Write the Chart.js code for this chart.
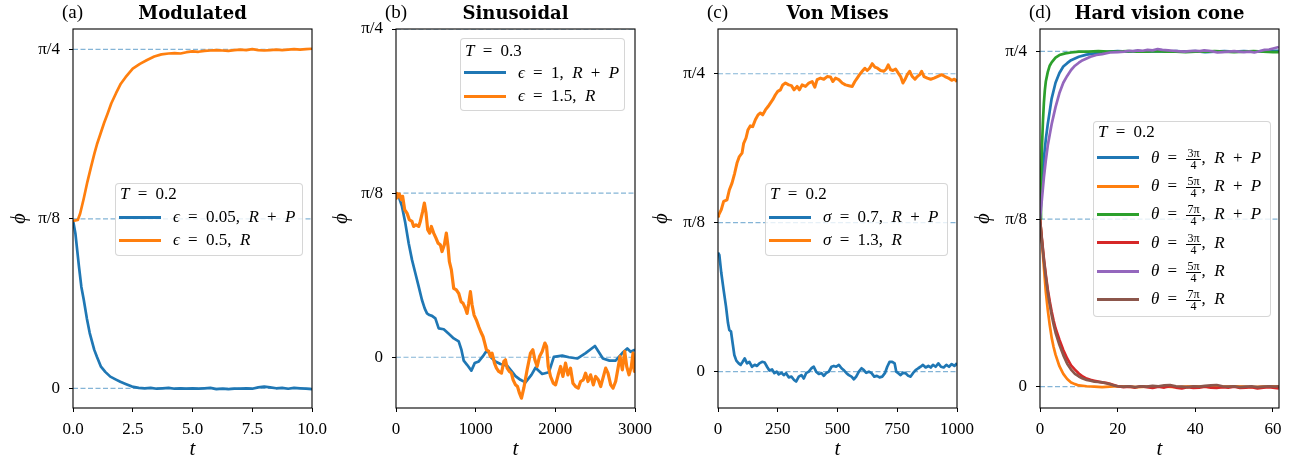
<!DOCTYPE html>
<html>
<head>
<meta charset="utf-8">
<script src="https://cdn.jsdelivr.net/npm/chart.js@4.4.1/dist/chart.umd.min.js"></script>
<style>
html,body{margin:0;padding:0;background:#fff;}
#wrap{position:relative;width:1305px;height:464px;overflow:hidden;background:#fff;}
#wrap canvas{position:absolute;top:0;}
.ptitle{position:absolute;top:4px;font-family:"DejaVu Serif",serif;font-weight:bold;font-size:18px;line-height:18px;white-space:nowrap;color:#000;transform:translateX(-50%);}
.plabel{position:absolute;top:2px;font-family:"Liberation Serif",serif;font-size:19px;line-height:19px;white-space:nowrap;color:#000;}
.leg{position:absolute;box-sizing:border-box;border:1px solid rgba(204,204,204,0.8);border-radius:4px;background:rgba(255,255,255,0.8);font-family:"Liberation Serif",serif;font-size:17px;color:#000;}
.leg .tx{position:absolute;white-space:nowrap;line-height:20px;height:20px;word-spacing:4px;}
.leg .sw{position:absolute;height:3px;width:42px;}
.frac{display:inline-block;vertical-align:middle;text-align:center;font-size:12px;line-height:11px;margin:0 1px;word-spacing:0;}
.frac span{display:block;padding:0 1px;}
.frac span:first-child{border-bottom:1px solid #000;}
</style>
</head>
<body>
<div id="wrap"></div>
<script>
// ---------------- data (phi in radians) ----------------
const yTickVals = [0, Math.PI / 8, Math.PI / 4];
const yTickLabels = ['0', 'π/8', 'π/4'];
const refLevels = [0, Math.PI / 8, Math.PI / 4];

// (a) Modulated
const modXTicks = [0, 2.5, 5, 7.5, 10];
const modXLabels = ['0.0', '2.5', '5.0', '7.5', '10.0'];
const modBlueT = [0,0.1,0.25,0.35,0.45,0.58,0.7,0.89,1.0,1.17,1.35,1.56,1.8,1.98,2.2,2.47,2.75,3.0,3.25,3.5,3.75,4.0,4.25,4.5,4.75,5.0,5.25,5.5,5.75,6.0,6.25,6.5,6.75,7.0,7.25,7.5,7.75,8.0,8.25,8.5,8.75,9.0,9.25,9.5,9.75,10.0];
const modBlue = [0.390,0.359,0.282,0.235,0.205,0.162,0.128,0.089,0.073,0.050,0.038,0.027,0.020,0.015,0.010,0.004,0.001,0.000,0.001,-0.001,0.000,0.001,-0.001,0.000,-0.001,0.000,-0.001,0.000,0.001,-0.002,-0.001,-0.002,-0.001,-0.001,0.000,-0.001,0.002,0.004,0.002,0.000,0.001,-0.001,0.001,0.000,-0.001,-0.002];
const modOrangeT = [0,0.2,0.3,0.45,0.6,0.75,0.9,1.0,1.15,1.3,1.45,1.6,1.8,2.0,2.2,2.5,2.8,3.1,3.4,3.7,4.0,4.25,4.5,4.75,5.0,5.25,5.5,5.75,6.0,6.25,6.5,6.75,7.0,7.25,7.5,7.75,8.0,8.25,8.5,8.75,9.0,9.25,9.5,9.75,10];
const modOrange = [0.388,0.390,0.405,0.440,0.478,0.512,0.545,0.565,0.590,0.615,0.637,0.660,0.684,0.706,0.721,0.741,0.752,0.761,0.769,0.774,0.776,0.777,0.776,0.779,0.781,0.780,0.782,0.783,0.784,0.783,0.782,0.784,0.785,0.784,0.786,0.784,0.783,0.784,0.785,0.784,0.785,0.786,0.785,0.786,0.787];
const modLegendTitle = '<i>T</i> = 0.2';
const modLegend = ['<i>ϵ</i> = 0.05,&ensp;<i>R</i> + <i>P</i>', '<i>ϵ</i> = 0.5,&ensp;<i>R</i>'];

// (b) Sinusoidal
const sinXTicks = [0, 1000, 2000, 3000];
const sinXLabels = ['0', '1000', '2000', '3000'];
const sinBlueT = [0,33,75,117,159,201,243,285,326,360,389,420,452,494,536,599,662,725,787,821,850,892,946,988,1039,1089,1131,1164,1200,1248,1311,1395,1458,1500,1562,1625,1700,1751,1835,1919,1981,2087,2170,2275,2380,2497,2597,2680,2757,2840,2903,2945,3000];
const sinBlue = [0.392,0.385,0.361,0.321,0.273,0.233,0.201,0.169,0.137,0.117,0.105,0.101,0.099,0.093,0.069,0.067,0.056,0.045,0.038,0.018,-0.008,-0.018,-0.032,-0.014,-0.010,0.002,0.014,0.012,-0.002,-0.010,-0.016,-0.020,-0.035,-0.045,-0.054,-0.060,-0.042,-0.025,-0.040,-0.036,0.001,0.004,0.000,-0.003,0.010,0.027,-0.003,-0.008,-0.008,0.010,0.021,0.013,0.018];
const sinOrangeT = [0,12,41,67,83,109,138,167,201,222,251,285,305,335,356,377,398,423,444,473,502,528,557,578,607,632,653,670,695,724,758,787,817,842,871,892,913,934,955,980,1009,1039,1064,1093,1114,1135,1164,1185,1206,1236,1261,1290,1324,1353,1374,1395,1424,1449,1470,1500,1525,1550,1575,1604,1646,1688,1718,1743,1772,1802,1835,1869,1890,1911,1940,1974,2003,2036,2066,2095,2128,2158,2191,2221,2254,2288,2317,2351,2380,2410,2443,2477,2506,2539,2569,2598,2632,2661,2695,2724,2757,2787,2812,2841,2871,2896,2925,2954,2975,2992,3000];
const sinOrange = [0.392,0.381,0.391,0.377,0.385,0.353,0.345,0.329,0.325,0.313,0.317,0.313,0.325,0.349,0.369,0.345,0.305,0.297,0.313,0.297,0.285,0.273,0.269,0.253,0.269,0.297,0.265,0.229,0.209,0.165,0.161,0.153,0.133,0.129,0.117,0.105,0.129,0.157,0.125,0.101,0.089,0.073,0.061,0.049,0.034,0.018,0.014,0.002,0.010,-0.014,-0.026,-0.034,-0.038,-0.010,-0.006,-0.026,-0.034,-0.038,-0.054,-0.066,-0.070,-0.086,-0.098,-0.074,-0.030,0.010,0.018,-0.006,-0.022,0.002,0.014,0.034,0.026,-0.022,-0.046,-0.062,-0.066,-0.042,-0.022,-0.046,-0.014,-0.042,-0.026,-0.062,-0.070,-0.074,-0.058,-0.054,-0.038,-0.058,-0.042,-0.066,-0.046,-0.054,-0.070,-0.050,-0.026,-0.038,-0.066,-0.074,-0.058,-0.026,0.002,-0.030,0.014,-0.022,-0.042,-0.022,0.010,-0.034,-0.006];
const sinLegendTitle = '<i>T</i> = 0.3';
const sinLegend = ['<i>ϵ</i> = 1,&ensp;<i>R</i> + <i>P</i>', '<i>ϵ</i> = 1.5,&ensp;<i>R</i>'];

// (c) Von Mises
const vmXTicks = [0, 250, 500, 750, 1000];
const vmXLabels = ['0', '250', '500', '750', '1000'];
const vmBlueT = [0,5.5,13.8,23.6,33.4,41.8,47.4,54.4,61.3,68.3,76.7,86.5,94.9,103.3,111.6,121.4,131.2,142.4,153.5,163.3,173.1,184.3,195.5,205.2,215,226.2,236,245.7,254.1,265.3,275.1,284.9,296,307.2,318.4,326.8,338,349.1,358.9,368.7,379.9,391,400.8,410.6,421.8,433,442.7,452.5,463.7,474.9,484.6,494.4,505.6,516.8,527.9,537.7,547.5,558.7,568.5,578.2,589.4,600.6,610.4,620.1,631.3,642.5,653.7,664.8,676,687.2,698.4,708.1,717.9,729.1,738.9,745.9,754.3,764.1,773.8,785,796.2,806,815.7,826.9,838.1,847.9,857.6,868.8,880,889.8,899.5,910.7,921.9,933.1,944.2,955.4,966.6,977.8,989,1000];
const vmBlue = [0.314,0.308,0.260,0.215,0.172,0.128,0.110,0.106,0.075,0.044,0.029,0.022,0.018,0.026,0.035,0.022,0.026,0.013,0.018,0.015,0.022,0.026,0.024,0.013,0.003,0.006,-0.004,0.000,-0.007,-0.003,-0.009,-0.004,-0.015,-0.013,-0.022,-0.026,-0.013,-0.009,-0.018,-0.004,0.000,0.009,0.013,0.000,-0.006,-0.004,-0.011,-0.004,0.000,0.013,0.015,0.013,0.018,0.009,0.003,-0.004,-0.009,-0.013,-0.020,-0.013,0.000,0.009,0.004,-0.003,0.000,-0.004,-0.013,-0.011,-0.015,-0.013,-0.004,0.013,0.026,0.026,0.022,0.000,-0.004,-0.009,-0.003,-0.004,-0.011,-0.013,-0.004,0.004,0.009,0.013,0.018,0.011,0.015,0.011,0.018,0.013,0.022,0.013,0.011,0.018,0.013,0.020,0.015,0.022];
const vmOrangeT = [0,2.7,13.8,23.6,37.6,47.4,58.6,69.7,79.5,89.3,100.5,107.4,117.2,125.6,135.4,145.2,156.3,167.5,177.3,187.1,198.3,209.4,219.2,229,240.2,250,261.1,270.9,282.1,296,307.2,318.4,331,340.7,351.9,365.9,379.9,393.8,405,414.8,428.8,442.7,456.7,470.7,480.5,491.6,505.6,519.6,533.5,547.5,561.5,572.6,582.4,592.2,603.4,614.5,624.3,634.1,645.3,656.5,667.6,680.2,694.2,704,712.3,722.1,731.9,743.1,754.3,764.1,773.8,782.2,792,801.8,813,824.1,833.9,843.7,852.1,861.9,875.8,889.8,903.7,917.7,935.9,949.8,963.8,977.8,989,1000];
const vmOrange = [0.410,0.413,0.427,0.449,0.453,0.479,0.497,0.523,0.550,0.567,0.576,0.602,0.616,0.638,0.648,0.646,0.664,0.677,0.682,0.677,0.690,0.699,0.708,0.717,0.730,0.739,0.743,0.756,0.761,0.756,0.754,0.743,0.752,0.743,0.756,0.752,0.761,0.765,0.750,0.770,0.774,0.771,0.778,0.777,0.765,0.774,0.770,0.761,0.756,0.754,0.752,0.765,0.774,0.783,0.792,0.800,0.794,0.800,0.812,0.803,0.800,0.794,0.792,0.798,0.809,0.796,0.794,0.798,0.787,0.778,0.761,0.770,0.783,0.792,0.778,0.771,0.778,0.783,0.792,0.778,0.774,0.771,0.774,0.778,0.783,0.778,0.774,0.768,0.771,0.765];
const vmLegendTitle = '<i>T</i> = 0.2';
const vmLegend = ['<i>σ</i> = 0.7,&ensp;<i>R</i> + <i>P</i>', '<i>σ</i> = 1.3,&ensp;<i>R</i>'];

// (d) Hard vision cone
const hvXTicks = [0, 20, 40, 60];
const hvXLabels = ['0', '20', '40', '60'];
const hvBlueT = [0,0.5,1,1.5,2,2.5,3,4,5,6,7,8,10,12,15,18,20,22.5,25,27.5,30,32.5,35,37.5,40,42.5,45,47.5,50,52.5,55,57.5,60,61.5];
const hvBlue = [0.393,0.470,0.535,0.580,0.615,0.645,0.675,0.712,0.735,0.750,0.758,0.765,0.773,0.778,0.782,0.785,0.786,0.785,0.786,0.785,0.786,0.785,0.786,0.785,0.786,0.784,0.785,0.786,0.785,0.786,0.785,0.786,0.787,0.787];
const hvOrangeT = [0,0.5,1,1.5,2,2.5,3,3.5,4,5,6,7,8,9,10,12,14,16,18,20,22.5,25,27.5,30,32.5,35,37.5,40,42.5,45,47.5,50,52.5,55,57.5,60,61.5];
const hvOrange = [0.393,0.340,0.280,0.222,0.180,0.145,0.115,0.093,0.075,0.048,0.030,0.018,0.010,0.006,0.003,0.001,0.000,-0.001,0.000,0.001,0.000,-0.001,0.000,0.001,0.000,-0.001,0.000,0.001,0.000,-0.001,0.000,0.001,0.000,-0.001,0.000,0.001,0.000];
const hvGreenT = [0,0.25,0.5,0.75,1,1.25,1.5,2,2.5,3,4,5,6.5,8,10,12.5,15,17.5,20,22.5,25,27.5,30,32.5,35,37.5,40,42.5,45,47.5,50,52.5,55,57.5,60,61.5];
const hvGreen = [0.393,0.480,0.560,0.620,0.665,0.695,0.715,0.737,0.752,0.760,0.771,0.777,0.781,0.783,0.785,0.785,0.786,0.785,0.785,0.786,0.785,0.785,0.786,0.785,0.785,0.784,0.785,0.785,0.786,0.785,0.784,0.785,0.786,0.785,0.784,0.784];
const hvRT = [0,0.5,1,1.5,2,2.5,3,3.5,4,5,6,7,8,9,10,11,12,13,14,15,16,17,18,19,20,21.5,23,24.5,26,27.5,29,30.5,32,33.5,35,36.5,38,39.5,41,42.5,44,45.5,47,48.5,50,51.5,53,54.5,56,57.5,59,60.5,61.5];
const hvRed = [0.393,0.345,0.300,0.262,0.228,0.200,0.176,0.155,0.137,0.110,0.086,0.066,0.050,0.040,0.031,0.024,0.019,0.016,0.014,0.012,0.010,0.009,0.007,0.004,0.001,-0.001,0.000,-0.002,0.001,-0.001,-0.003,0.000,-0.002,0.001,-0.002,-0.004,-0.001,-0.003,-0.002,0.000,-0.002,-0.003,-0.001,-0.002,0.000,-0.003,-0.002,-0.001,-0.004,-0.002,-0.001,-0.003,-0.004];
const hvPurpleT = [0,0.5,1,1.5,2,2.5,3,3.5,4,5,6,7,8,9,10,11,12,13,14.5,16,18,20,21.7,23,24,25.2,26.5,27.7,29,30.3,31.5,33,34.3,35.5,37.2,38.5,40,41.2,42.3,43.5,44.7,45.7,47,48.5,50,51.2,52.5,54,55.2,56.5,57.8,59,60.3,61.5];
const hvPurple = [0.393,0.440,0.490,0.530,0.565,0.590,0.615,0.635,0.655,0.688,0.712,0.728,0.742,0.752,0.759,0.765,0.769,0.773,0.777,0.779,0.783,0.784,0.785,0.787,0.786,0.788,0.787,0.789,0.788,0.791,0.789,0.788,0.787,0.786,0.785,0.786,0.787,0.786,0.788,0.787,0.785,0.783,0.784,0.785,0.786,0.785,0.784,0.785,0.783,0.786,0.789,0.790,0.793,0.796];
const hvBrown = [0.393,0.342,0.296,0.257,0.222,0.193,0.168,0.146,0.127,0.098,0.074,0.054,0.040,0.030,0.024,0.019,0.016,0.014,0.012,0.011,0.010,0.008,0.006,0.003,0.001,0.000,0.001,-0.001,0.001,0.000,0.002,0.001,0.003,0.004,0.001,0.000,-0.001,0.001,0.000,0.002,0.003,0.004,0.001,0.000,0.001,-0.001,0.000,0.001,-0.001,0.000,0.001,0.000,0.001];
const hvLegendTitle = '<i>T</i> = 0.2';
const hvLegend = [
  '<i>θ</i> = <span class="frac"><span>3π</span><span>4</span></span>,&ensp;<i>R</i> + <i>P</i>',
  '<i>θ</i> = <span class="frac"><span>5π</span><span>4</span></span>,&ensp;<i>R</i> + <i>P</i>',
  '<i>θ</i> = <span class="frac"><span>7π</span><span>4</span></span>,&ensp;<i>R</i> + <i>P</i>',
  '<i>θ</i> = <span class="frac"><span>3π</span><span>4</span></span>,&ensp;<i>R</i>',
  '<i>θ</i> = <span class="frac"><span>5π</span><span>4</span></span>,&ensp;<i>R</i>',
  '<i>θ</i> = <span class="frac"><span>7π</span><span>4</span></span>,&ensp;<i>R</i>'
];

const C = {blue:'#1f77b4', orange:'#ff7f0e', green:'#2ca02c', red:'#d62728', purple:'#9467bd', brown:'#8c564b'};

// ---------------- layout ----------------
const AXW = 73, PW = 239, RPAD = 45, CH = 464, XAXH = 56, TOP = 29;
const wrap = document.getElementById('wrap');
const serif = '"Liberation Serif", serif';

const framePlugin = {
  id: 'frame',
  afterDraw(chart) {
    const {ctx, chartArea: a} = chart;
    ctx.save();
    ctx.strokeStyle = '#000';
    ctx.lineWidth = 1.1;
    ctx.strokeRect(a.left, a.top, a.right - a.left, a.bottom - a.top);
    ctx.restore();
  }
};

function pts(t, y) { return t.map((v, i) => ({x: v, y: y[i]})); }

function buildPanel(p) {
  const W = AXW + PW + RPAD;
  const cv = document.createElement('canvas');
  cv.width = W; cv.height = CH;
  cv.style.width = W + 'px'; cv.style.height = CH + 'px';
  cv.style.left = (p.left - AXW) + 'px';
  wrap.appendChild(cv);

  const datasets = [];
  refLevels.forEach(v => datasets.push({
    data: [{x: p.xmin, y: v}, {x: p.xmax, y: v}],
    borderColor: 'rgba(31,119,180,0.55)', borderWidth: 1.2, borderDash: [5, 2.5],
    pointRadius: 0, order: 100
  }));
  p.series.forEach((s, i) => datasets.push({
    data: pts(s.t, s.y), borderColor: s.color, borderWidth: s.w || 2.7,
    pointRadius: 0, order: 50 - i, borderJoinStyle: 'round'
  }));

  const tickFont = {family: serif, size: 17};
  const gridOpts = {display: true, drawOnChartArea: false, drawTicks: true, tickLength: 4, tickColor: '#000', tickWidth: 1};
  new Chart(cv, {
    type: 'line',
    data: {datasets},
    options: {
      responsive: false, animation: false, devicePixelRatio: 1,
      layout: {padding: {top: TOP, right: RPAD, left: 0, bottom: 0}},
      plugins: {legend: {display: false}, tooltip: {enabled: false}, title: {display: false}},
      elements: {point: {radius: 0}, line: {tension: 0}},
      scales: {
        x: {
          type: 'linear', min: p.xmin, max: p.xmax,
          afterBuildTicks: s => { s.ticks = p.xTicks.map(v => ({value: v})); },
          afterFit: s => { s.height = XAXH; s.paddingLeft = 0; s.paddingRight = 0; },
          ticks: {autoSkip: false, maxRotation: 0, minRotation: 0, padding: 7, color: '#000', font: tickFont,
                  callback: (v, i) => p.xLabels[i]},
          grid: gridOpts,
          border: {display: false},
          title: {display: true, text: 't', color: '#000', font: {family: serif, size: 21, style: 'italic'}, padding: {top: 0, bottom: 2}}
        },
        y: {
          type: 'linear', min: p.ymin, max: p.ymax,
          afterBuildTicks: s => { s.ticks = yTickVals.map(v => ({value: v})); },
          afterFit: s => { s.width = AXW; s.paddingTop = 0; s.paddingBottom = 0; },
          ticks: {autoSkip: false, padding: 9, color: '#000', font: tickFont,
                  callback: (v, i) => yTickLabels[i]},
          grid: gridOpts,
          border: {display: false},
          title: {display: true, text: 'ϕ', color: '#000', font: {family: serif, size: 20, style: 'italic'}, padding: {top: p.phiPad, bottom: 0}}
        }
      }
    },
    plugins: [framePlugin]
  });

  // panel label and title
  const lab = document.createElement('div');
  lab.className = 'plabel'; lab.textContent = p.tag;
  lab.style.left = (p.left - 11) + 'px';
  wrap.appendChild(lab);
  const ttl = document.createElement('div');
  ttl.className = 'ptitle'; ttl.textContent = p.title;
  ttl.style.left = (p.left + PW / 2) + 'px';
  wrap.appendChild(ttl);

  // legend
  const L = p.legend;
  const box = document.createElement('div');
  box.className = 'leg';
  box.style.left = L.x + 'px'; box.style.top = L.y + 'px';
  box.style.width = L.w + 'px'; box.style.height = L.h + 'px';
  const t = document.createElement('div');
  t.className = 'tx'; t.innerHTML = L.title;
  t.style.left = '4px'; t.style.top = (L.titleBase - 15.7 - L.y - 1) + 'px';
  box.appendChild(t);
  L.labels.forEach((txt, i) => {
    const rc = L.rows[i];
    const sw = document.createElement('div');
    sw.className = 'sw';
    sw.style.background = p.series[i].color;
    sw.style.left = '2.5px'; sw.style.top = (rc - 1.5 - L.y - 1) + 'px';
    box.appendChild(sw);
    const tx = document.createElement('div');
    tx.className = 'tx'; tx.innerHTML = txt;
    tx.style.left = '57px'; tx.style.top = (rc - 10 - L.y - 1) + 'px';
    box.appendChild(tx);
  });
  wrap.appendChild(box);
}

buildPanel({
  tag: '(a)', title: 'Modulated', left: 73, xmin: 0, xmax: 10, ymin: -0.0457, ymax: 0.8328,
  xTicks: modXTicks, xLabels: modXLabels, phiPad: 8,
  series: [{t: modBlueT, y: modBlue, color: C.blue}, {t: modOrangeT, y: modOrange, color: C.orange}],
  legend: {x: 115, y: 183, w: 188, h: 73, titleBase: 200, rows: [217.3, 240], title: modLegendTitle, labels: modLegend}
});
buildPanel({
  tag: '(b)', title: 'Sinusoidal', left: 396, xmin: 0, xmax: 3000, ymin: -0.1214, ymax: Math.PI / 4,
  xTicks: sinXTicks, xLabels: sinXLabels, phiPad: 7,
  series: [{t: sinBlueT, y: sinBlue, color: C.blue}, {t: sinOrangeT, y: sinOrange, color: C.orange, w: 3.2}],
  legend: {x: 460, y: 38, w: 165, h: 73, titleBase: 56.7, rows: [72.7, 96], title: sinLegendTitle, labels: sinLegend}
});
buildPanel({
  tag: '(c)', title: 'Von Mises', left: 718, xmin: 0, xmax: 1000, ymin: -0.0958, ymax: 0.9034,
  xTicks: vmXTicks, xLabels: vmXLabels, phiPad: 4.5,
  series: [{t: vmBlueT, y: vmBlue, color: C.blue}, {t: vmOrangeT, y: vmOrange, color: C.orange, w: 3}],
  legend: {x: 765, y: 183, w: 183, h: 73, titleBase: 200, rows: [217.3, 240], title: vmLegendTitle, labels: vmLegend}
});
buildPanel({
  tag: '(d)', title: 'Hard vision cone', left: 1040, xmin: 0, xmax: 61.55, ymin: -0.0499, ymax: 0.838,
  xTicks: hvXTicks, xLabels: hvXLabels, phiPad: 4.5,
  series: [
    {t: hvBlueT, y: hvBlue, color: C.blue},
    {t: hvOrangeT, y: hvOrange, color: C.orange},
    {t: hvGreenT, y: hvGreen, color: C.green},
    {t: hvRT, y: hvRed, color: C.red},
    {t: hvPurpleT, y: hvPurple, color: C.purple},
    {t: hvRT, y: hvBrown, color: C.brown}
  ],
  legend: {x: 1093, y: 121, w: 178, h: 196, titleBase: 138, rows: [157.7, 186, 214.3, 242.7, 271, 299.3], title: hvLegendTitle, labels: hvLegend}
});
</script>
</body>
</html>
